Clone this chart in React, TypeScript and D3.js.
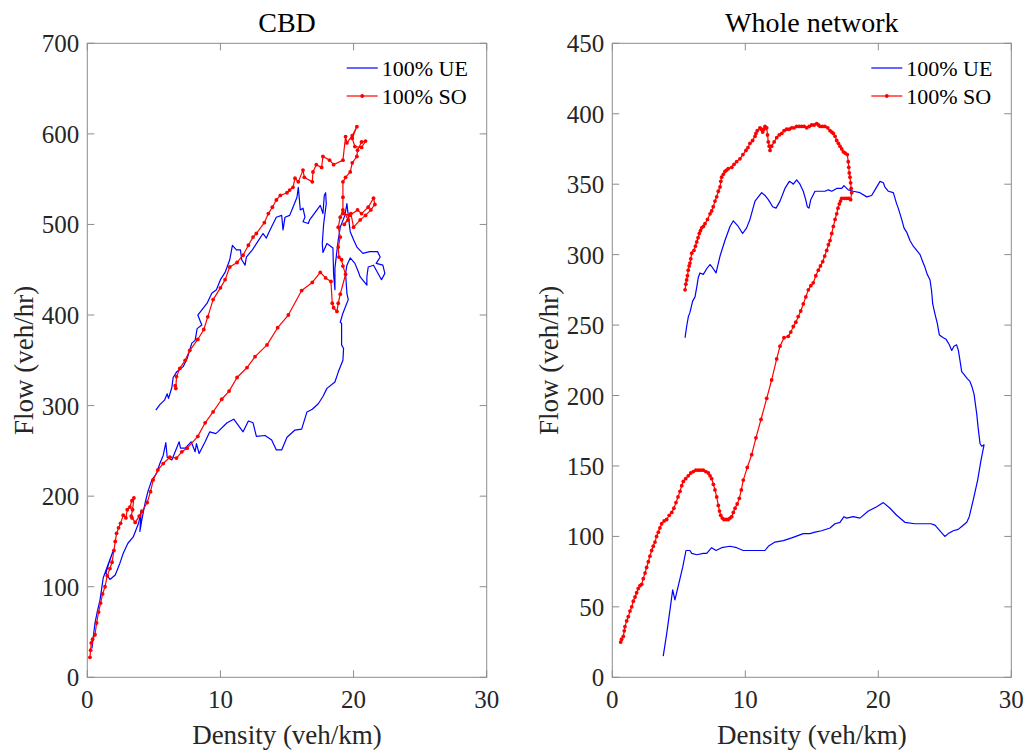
import React from "react";
import * as d3 from "d3";

// ---------- DATA ----------
const panelTitles = ["CBD", "Whole network"];
const xTicks = [0, 10, 20, 30];
const cbdYTicks = [0, 100, 200, 300, 400, 500, 600, 700];
const netYTicks = [0, 50, 100, 150, 200, 250, 300, 350, 400, 450];
const legendLabels = ["100% UE", "100% SO"];

// CBD, 100% UE  [density, flow]
const cbdUE: [number, number][] = [
  [5.15,295],[5.45,301],[5.8,306],[6.0,313],[6.1,308],[6.35,320],[6.45,331],[6.7,337],[7.2,343],[7.5,352],[7.85,369],[8.1,372],[8.25,385],[8.6,389],[8.3,400],[9.0,413],[9.35,424],[9.7,428],[10.0,439],[10.35,447],[10.7,461],[10.9,477],[11.2,472],[11.5,472],[11.6,461],[11.85,455],[11.95,464],[12.4,472],[12.8,481],[13.2,490],[13.45,485],[13.6,490],[13.9,499],[14.2,508],[14.6,510],[14.7,494],[14.85,508],[15.2,510],[15.45,519],[15.75,530],[15.85,541],[16.0,516],[16.2,518],[16.35,508],[16.2,503],[16.6,501],[16.7,505],[16.95,510],[17.5,521],[17.7,512],[17.8,532],[17.9,535],[17.95,523],[17.75,500],[17.65,479],[17.7,469],[18.0,479],[18.45,474],[18.5,445],[18.6,428],[18.6,452],[18.85,483],[19.0,497],[19.35,510],[19.5,523],[19.6,510],[19.75,492],[20.0,483],[20.25,475],[20.7,468],[21.2,470],[21.8,470],[22.0,464],[21.7,457],[22.2,455],[22.35,446],[22.1,439],[21.5,455],[21.1,453],[21.0,442],[21.0,433],[20.5,442],[20.35,448],[20.1,457],[19.75,463],[19.5,455],[19.4,446],[19.5,424],[19.6,417],[19.2,402],[19.0,392],[19.1,391],[19.1,367],[19.25,363],[19.2,350],[18.85,337],[18.6,326],[18.0,319],[17.7,310],[17.35,302],[16.9,296],[16.5,293],[16.1,274],[15.6,273],[15.0,265],[14.6,251],[14.2,251],[13.85,262],[13.35,267],[12.7,266],[12.45,281],[12.1,283],[11.7,271],[11.0,285],[10.5,281],[9.8,271],[9.65,269],[9.2,271],[8.85,260],[8.4,247],[8.2,258],[8.1,249],[7.8,260],[7.35,253],[7.0,253],[6.9,260],[6.35,240],[6.0,243],[5.9,259],[5.7,245],[5.45,236],[5.2,225],[4.85,218],[4.55,205],[4.35,193],[4.1,174],[3.95,161],[4.05,185],[3.85,170],[3.45,155],[3.05,148],[2.7,137],[2.45,126],[2.1,113],[1.7,108],[1.4,115],[1.6,125],[1.95,140],[1.5,122],[1.2,110],[0.95,85],[0.73,71],[0.58,60],[0.45,45],[0.35,32]
];

// CBD, 100% SO
const cbdSO: [number, number][] = [
  [0.2,22],[0.25,30],[0.3,38],[0.4,42],[0.58,47],[0.7,60],[0.85,72],[1.0,82],[1.15,92],[1.33,100],[1.5,112],[1.7,120],[1.86,127],[2.0,140],[2.1,150],[2.2,159],[2.35,165],[2.5,170],[2.7,179],[2.9,176],[3.0,185],[3.2,188],[3.35,195],[3.5,198],[3.4,185],[3.3,178],[3.36,176],[3.6,171],[3.9,178],[4.1,183],[4.5,193],[4.75,205],[4.95,218],[5.3,229],[5.7,236],[6.2,243],[6.7,242],[7.1,249],[7.5,253],[8.3,266],[8.85,281],[9.45,293],[10.1,307],[10.65,316],[11.25,331],[12.0,342],[12.6,354],[13.5,367],[14.3,386],[15.1,400],[16.1,427],[16.9,436],[17.5,447],[17.9,441],[18.3,437],[18.4,413],[18.5,408],[18.75,404],[18.85,413],[19.0,423],[19.4,445],[19.2,454],[19.1,461],[18.9,464],[18.85,475],[19.0,486],[18.85,497],[19.0,508],[19.2,516],[19.6,505],[19.3,500],[19.8,512],[20.0,497],[20.5,505],[20.9,510],[21.3,516],[21.6,522],[21.5,529],[21.1,519],[20.6,512],[20.3,516],[19.7,510],[19.2,512],[19.2,530],[19.2,547],[19.4,552],[19.75,558],[19.9,568],[20.25,575],[20.3,582],[20.6,591],[20.9,592],[20.6,585],[20.1,586],[19.9,595],[20.25,608],[19.9,598],[19.5,590],[19.4,597],[19.2,571],[18.5,566],[18.2,571],[17.7,575],[17.6,563],[17.2,566],[16.95,558],[16.9,547],[16.3,552],[16.2,560],[15.85,547],[15.6,551],[15.45,541],[15.2,538],[15.0,535],[14.5,532],[14.2,527],[13.9,519],[13.6,512],[13.3,502],[12.7,490],[12.45,486],[12.1,477],[11.7,466],[11.25,458],[10.7,453],[10.35,439],[10.0,430],[9.45,417],[9.05,398],[8.75,384],[8.3,373],[7.7,361],[7.35,350],[6.95,341],[6.7,332],[6.65,319],[6.6,322]
];

// Whole network, 100% UE
const netUE: [number, number][] = [
  [5.47,241],[5.59,249],[5.72,256],[5.84,259],[6.04,267],[6.22,270],[6.35,277],[6.47,284],[6.59,287],[6.84,286],[7.1,290],[7.35,293],[7.59,290],[7.8,287],[8.1,299],[8.47,310],[8.85,320],[9.1,324],[9.47,320],[9.8,315],[10.1,319],[10.35,325],[10.73,338],[10.98,341],[11.23,344],[11.48,342],[11.73,339],[12.06,334],[12.31,333],[12.61,338],[12.98,347],[13.31,352],[13.49,351],[13.61,350],[13.86,353],[14.11,350],[14.36,345],[14.54,339],[14.66,334],[14.79,333],[14.92,339],[15.24,345],[15.62,345],[16.0,345],[16.24,346],[16.5,345],[16.87,347],[17.25,347],[17.42,349],[17.74,346],[18.12,345],[18.62,344],[19.13,341],[19.5,342],[19.75,346],[20.13,352],[20.38,351],[20.5,348],[20.75,345],[21.13,344],[21.38,336],[21.5,333],[21.76,325],[21.93,319],[22.13,316],[22.38,310],[22.63,306],[22.89,303],[23.14,300],[23.34,295],[23.51,291],[23.68,286],[23.89,282],[24.01,274],[24.09,265],[24.26,258],[24.44,251],[24.59,243],[24.89,241],[25.09,240],[25.34,236],[25.52,232],[25.69,235],[25.89,236],[26.02,232],[26.14,225],[26.27,217],[26.44,215],[26.69,212],[26.89,210],[27.05,206],[27.2,201],[27.4,187],[27.52,176],[27.65,166],[27.77,164],[27.95,165],[27.72,154],[27.47,140],[27.14,126],[26.84,114],[26.65,110],[26.27,107],[26.01,105],[25.64,104],[25.26,102],[25.0,100],[24.26,108],[23.96,109],[23.5,109],[22.76,109],[22.0,110],[21.38,115],[20.88,120],[20.38,124],[19.88,121],[19.25,118],[18.62,113],[18.12,114],[17.62,113],[17.42,114],[17.12,110],[16.74,109],[16.37,106],[15.74,104],[15.24,103],[14.86,102],[14.36,102],[13.49,99],[12.86,97],[12.23,96],[11.73,93],[11.48,90],[10.48,90],[9.85,90],[9.35,92],[8.85,93],[8.22,92],[7.8,90],[7.47,92],[7.1,88],[6.84,88],[6.35,87],[5.97,88],[5.84,90],[5.54,90],[5.29,78],[5.09,70],[4.71,55],[4.54,62],[4.34,48],[4.09,31],[3.83,15]
];

// Whole network, 100% SO
const netSO: [number, number][] = [
  [0.63,25],[0.7,27],[0.83,29],[0.9,33],[0.95,36],[1.08,40],[1.2,43],[1.33,47],[1.46,50],[1.58,54],[1.71,57],[1.83,60],[1.95,63],[2.08,65],[2.21,66],[2.33,70],[2.46,74],[2.58,78],[2.71,82],[2.83,86],[2.96,90],[3.08,93],[3.21,96],[3.33,100],[3.46,103],[3.58,106],[3.71,109],[3.9,111],[4.09,112],[4.28,115],[4.47,117],[4.63,120],[4.79,124],[4.94,128],[5.09,132],[5.22,136],[5.34,139],[5.52,141],[5.71,143],[5.9,145],[6.09,146],[6.28,147],[6.47,147],[6.65,147],[6.84,147],[7.03,146],[7.22,145],[7.35,143],[7.47,141],[7.6,137],[7.72,133],[7.85,128],[7.97,122],[8.06,118],[8.15,115],[8.27,113],[8.4,112],[8.56,112],[8.72,112],[8.85,113],[8.98,114],[9.1,117],[9.23,120],[9.39,123],[9.55,127],[9.7,133],[9.85,140],[10.15,149],[10.48,158],[10.8,170],[11.18,183],[11.61,198],[11.98,211],[12.36,226],[12.61,235],[12.91,241],[13.23,242],[13.42,245],[13.61,249],[13.8,252],[13.98,256],[14.17,260],[14.36,265],[14.55,270],[14.74,275],[14.93,278],[15.11,280],[15.3,285],[15.49,289],[15.65,292],[15.82,295],[15.97,299],[16.12,303],[16.25,307],[16.37,310],[16.5,315],[16.62,320],[16.75,325],[16.87,329],[16.97,333],[17.07,336],[17.16,338],[17.25,340],[17.45,340],[17.62,340],[17.78,340],[17.92,339],[18.0,344],[17.96,347],[17.92,351],[17.87,355],[17.82,358],[17.78,362],[17.74,366],[17.67,371],[17.52,372],[17.37,373],[17.25,375],[17.12,377],[17.0,379],[16.87,381],[16.75,384],[16.62,386],[16.5,387],[16.37,388],[16.2,390],[15.99,391],[15.8,391],[15.62,391],[15.5,392],[15.37,393],[15.18,392],[14.99,392],[14.8,391],[14.62,390],[14.43,391],[14.24,391],[14.05,391],[13.86,391],[13.67,390],[13.49,390],[13.3,389],[13.11,389],[12.92,388],[12.74,386],[12.55,385],[12.36,383],[12.17,380],[11.98,377],[11.86,374],[11.8,377],[11.73,380],[11.67,385],[11.61,390],[11.48,391],[11.4,389],[11.31,387],[11.2,389],[11.1,390],[10.9,388],[10.8,386],[10.73,384],[10.55,381],[10.35,379],[10.2,376],[10.05,374],[9.82,371],[9.6,368],[9.35,366],[9.15,364],[8.98,362],[8.72,361],[8.6,360],[8.47,359],[8.35,357],[8.22,355],[8.16,352],[8.1,348],[7.97,345],[7.85,341],[7.72,338],[7.59,334],[7.47,331],[7.35,329],[7.16,325],[6.97,322],[6.85,320],[6.72,319],[6.63,317],[6.54,315],[6.45,312],[6.35,309],[6.25,306],[6.14,303],[5.97,301],[5.9,297],[5.84,294],[5.78,292],[5.71,289],[5.65,285],[5.59,282],[5.53,279],[5.47,275]
];

// ---------- LAYOUT ----------
const W = 1029;
const H = 751;
const panels = [
  { x0: 87.3, x1: 486.7, yMax: 700, yTicks: cbdYTicks, ue: cbdUE, so: cbdSO, title: panelTitles[0] },
  { x0: 612.3, x1: 1011.3, yMax: 450, yTicks: netYTicks, ue: netUE, so: netSO, title: panelTitles[1] },
];
const yTop = 43.3;
const yBot = 677.3;
const FONT = "'Liberation Serif', 'Times New Roman', serif";
const AXIS = "#8c8c8c";
const TEXT = "#262626";

function Panel({ p }: { p: typeof panels[number] }) {
  const x = d3.scaleLinear().domain([0, 30]).range([p.x0, p.x1]);
  const y = d3.scaleLinear().domain([0, p.yMax]).range([yBot, yTop]);
  const line = d3.line<[number, number]>().x((d) => x(d[0])).y((d) => y(d[1]));
  const tl = 7;
  const cx = (p.x0 + p.x1) / 2;
  const legX = p.x1 - 140;
  return (
    <g>
      <rect x={p.x0} y={yTop} width={p.x1 - p.x0} height={yBot - yTop} fill="white" stroke={AXIS} strokeWidth={1} />
      {xTicks.map((t) => (
        <g key={"x" + t}>
          <line x1={x(t)} x2={x(t)} y1={yBot} y2={yBot - tl} stroke={AXIS} />
          <line x1={x(t)} x2={x(t)} y1={yTop} y2={yTop + tl} stroke={AXIS} />
          <text x={x(t)} y={yBot + 31} textAnchor="middle" fontSize={25} fill={TEXT} fontFamily={FONT}>{t}</text>
        </g>
      ))}
      {p.yTicks.map((t) => (
        <g key={"y" + t}>
          <line x1={p.x0} x2={p.x0 + tl} y1={y(t)} y2={y(t)} stroke={AXIS} />
          <line x1={p.x1} x2={p.x1 - tl} y1={y(t)} y2={y(t)} stroke={AXIS} />
          <text x={p.x0 - 8} y={y(t) + 9} textAnchor="end" fontSize={25} fill={TEXT} fontFamily={FONT}>{t}</text>
        </g>
      ))}
      <path d={line(p.ue) || ""} fill="none" stroke="#0000ff" strokeWidth={1.2} strokeLinejoin="round" />
      <path d={line(p.so) || ""} fill="none" stroke="#ff0000" strokeWidth={1.2} strokeLinejoin="round" />
      {p.so.map((d, i) => (
        <circle key={i} cx={x(d[0])} cy={y(d[1])} r={1.9} fill="#ff0000" />
      ))}
      <text x={cx} y={32} textAnchor="middle" fontSize={28} fill="#000" fontFamily={FONT}>{p.title}</text>
      <text x={cx} y={744} textAnchor="middle" fontSize={27} fill={TEXT} fontFamily={FONT}>Density (veh/km)</text>
      <text transform={`translate(${p.x0 - 54},${(yTop + yBot) / 2}) rotate(-90)`} textAnchor="middle" fontSize={27} fill={TEXT} fontFamily={FONT}>Flow (veh/hr)</text>
      {/* legend */}
      <line x1={legX} x2={legX + 31} y1={68} y2={68} stroke="#0000ff" strokeWidth={1.2} />
      <text x={legX + 35} y={76} fontSize={22} fill="#000" fontFamily={FONT}>{legendLabels[0]}</text>
      <line x1={legX} x2={legX + 31} y1={96} y2={96} stroke="#ff0000" strokeWidth={1.2} />
      <circle cx={legX + 15.5} cy={96} r={1.9} fill="#ff0000" />
      <text x={legX + 35} y={104} fontSize={22} fill="#000" fontFamily={FONT}>{legendLabels[1]}</text>
    </g>
  );
}

export default function App() {
  return (
    <svg width={W} height={H} style={{ display: "block", position: "absolute", left: 0, top: 0, background: "white" }}>
      <rect width={W} height={H} fill="white" />
      {panels.map((p, i) => (
        <Panel key={i} p={p} />
      ))}
    </svg>
  );
}
